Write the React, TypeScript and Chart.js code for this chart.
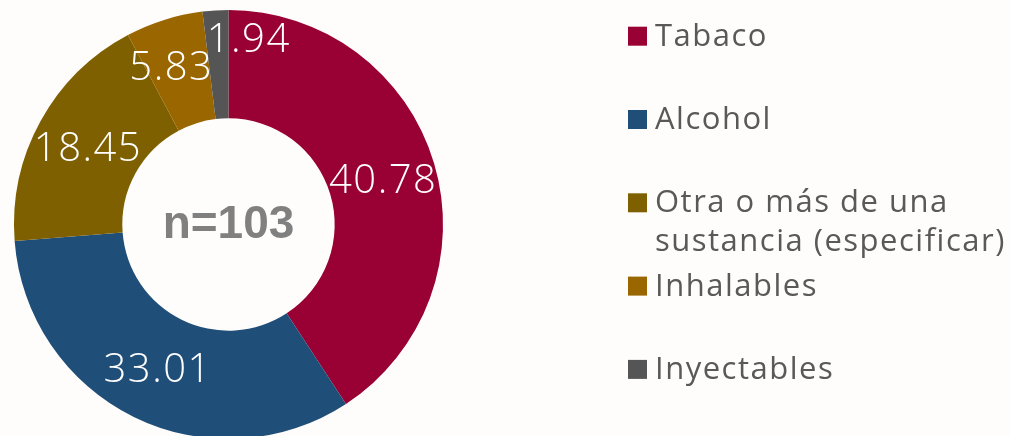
import { useEffect, useRef } from "react";
import { Chart, registerables } from "chart.js";

Chart.register(...registerables);

const categories = [
  "Tabaco",
  "Alcohol",
  "Otra o más de una sustancia (especificar)",
  "Inhalables",
  "Inyectables",
];
const values = [40.78, 33.01, 18.45, 5.83, 1.94];
const colors = ["#990033", "#1F4E79", "#7F6000", "#996600", "#555555"];
const valueLabels = ["40.78", "33.01", "18.45", "5.83", "1.94"];
// small nudges (px) for labels that do not fit their slice
const labelNudges = [
  [1, 0],
  [0, 0],
  [0, 0],
  [-9, -6],
  [30, -26],
];
const centerText = "n=103";

const W = 1010;
const H = 440;

const labelFont = "300 40px 'Open Sans'";
const legendFont = "400 31px 'Open Sans'";

const dataLabelPlugin = {
  id: "dataLabels",
  afterDatasetsDraw(chart: any) {
    const ctx = chart.ctx as CanvasRenderingContext2D;
    const meta = chart.getDatasetMeta(0);
    ctx.save();
    ctx.font = labelFont;
    (ctx as any).letterSpacing = "1.5px";
    ctx.fillStyle = "#ffffff";
    ctx.textAlign = "center";
    ctx.textBaseline = "alphabetic";
    meta.data.forEach((arc: any, i: number) => {
      const p = arc.getProps(
        ["x", "y", "startAngle", "endAngle", "innerRadius", "outerRadius"],
        true
      );
      const mid = (p.startAngle + p.endAngle) / 2;
      const r = (p.innerRadius + p.outerRadius) / 2;
      const px = p.x + Math.cos(mid) * r + labelNudges[i][0];
      const py = p.y + Math.sin(mid) * r + labelNudges[i][1];
      ctx.fillText(valueLabels[i], px, py + 14);
    });
    ctx.restore();

    // center text
    const a0 = meta.data[0];
    ctx.save();
    ctx.font = "bold 46px 'Liberation Sans', Arial, sans-serif";
    ctx.fillStyle = "#808080";
    ctx.textAlign = "center";
    ctx.textBaseline = "alphabetic";
    ctx.fillText(centerText, a0.x, a0.y + 13.5);
    ctx.restore();
  },
};

const legendPlugin = {
  id: "sideLegend",
  afterDraw(chart: any) {
    const ctx = chart.ctx as CanvasRenderingContext2D;
    const boxX = 628;
    const textX = 655;
    const firstBaseline = 45.7;
    const step = 83.3;
    const lineH = 38.3;
    const box = 19;
    const maxW = 362;
    ctx.save();
    ctx.font = legendFont;
    (ctx as any).letterSpacing = "1.5px";
    ctx.textAlign = "left";
    ctx.textBaseline = "alphabetic";
    const labels: string[] = chart.data.labels;
    const bg: string[] = chart.data.datasets[0].backgroundColor;
    labels.forEach((label, i) => {
      const base = firstBaseline + i * step;
      ctx.fillStyle = bg[i];
      ctx.fillRect(boxX, base - box, box, box);
      // wrap
      const words = label.split(" ");
      const lines: string[] = [];
      let cur = "";
      words.forEach((w) => {
        const test = cur ? cur + " " + w : w;
        if (ctx.measureText(test).width > maxW && cur) {
          lines.push(cur);
          cur = w;
        } else cur = test;
      });
      if (cur) lines.push(cur);
      ctx.fillStyle = "#595959";
      lines.forEach((ln, j) => ctx.fillText(ln, textX, base + j * lineH));
    });
    ctx.restore();
  },
};

export default function App() {
  const ref = useRef<HTMLCanvasElement | null>(null);
  useEffect(() => {
    if (!ref.current) return;
    const chart = new Chart(ref.current, {
      type: "doughnut",
      data: {
        labels: categories,
        datasets: [
          {
            data: values,
            backgroundColor: colors,
            borderWidth: 0,
            hoverOffset: 0,
            offset: 0,
          },
        ],
      },
      options: {
        responsive: false,
        animation: false,
        cutout: "49.5%",
        rotation: 0,
        layout: { padding: { left: 14, top: 10, right: 567, bottom: 1 } },
        plugins: {
          legend: { display: false },
          tooltip: { enabled: false },
        },
        events: [],
      },
      plugins: [dataLabelPlugin, legendPlugin],
    });
    return () => chart.destroy();
  }, []);
  return (
    <div
      style={{
        position: "fixed",
        left: 0,
        top: 0,
        width: W,
        height: 436,
        overflow: "hidden",
        background: "#fffdfb",
      }}
    >
      <canvas ref={ref} width={W} height={H} style={{ width: W, height: H, display: "block" }} />
    </div>
  );
}
